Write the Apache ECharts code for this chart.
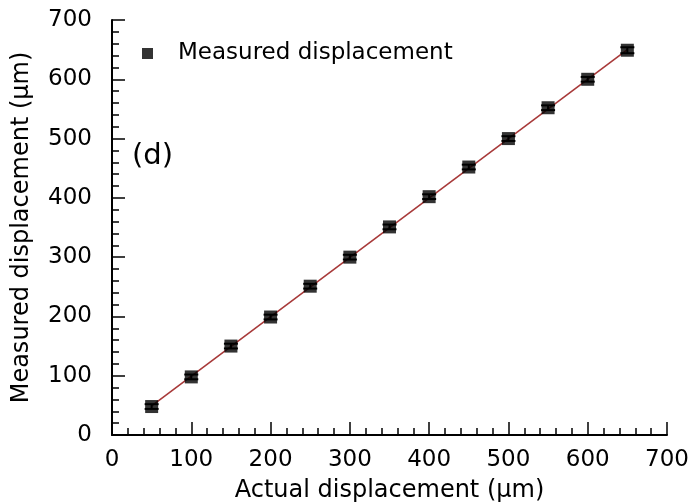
<!DOCTYPE html>
<html>
<head>
<meta charset="utf-8">
<script src="https://cdn.jsdelivr.net/npm/echarts@6/dist/echarts.min.js"></script>
<style>
  html, body { margin: 0; padding: 0; background: #fff; }
  #chart { width: 689px; height: 502px; }
</style>
</head>
<body>
<div id="chart"></div>
<script>
// actual vs measured displacement (µm)
const actual = [50, 100, 150, 200, 250, 300, 350, 400, 450, 500, 550, 600, 650];
const measured = [48, 98, 150, 199, 251, 300, 351, 402, 452, 500, 552, 600, 649];
const errors = [4, 4, 4, 4, 4, 4, 4, 4, 4, 4, 4, 4, 5];
// fitted line endpoints
const fitX = [50, 650];
const fitY = [49, 650];

const FONT = "DejaVu Sans";
const chart = echarts.init(document.getElementById("chart"));

const points = actual.map((x, i) => [x, measured[i]]);
const errData = actual.map((x, i) => [x, measured[i] - errors[i], measured[i] + errors[i]]);

function renderErr(params, api) {
  const x = api.value(0);
  const lo = api.coord([x, api.value(1)]);
  const hi = api.coord([x, api.value(2)]);
  const w = 7;
  const style = { stroke: "#000", lineWidth: 2 };
  return {
    type: "group",
    children: [
      { type: "line", shape: { x1: lo[0], y1: lo[1], x2: hi[0], y2: hi[1] }, style },
      { type: "line", shape: { x1: lo[0] - w, y1: lo[1], x2: lo[0] + w, y2: lo[1] }, style },
      { type: "line", shape: { x1: hi[0] - w, y1: hi[1], x2: hi[0] + w, y2: hi[1] }, style }
    ]
  };
}

const axisCommon = {
  type: "value",
  min: 0,
  max: 700,
  interval: 100,
  splitLine: { show: false },
  axisLine: { show: true, lineStyle: { color: "#000", width: 2 } },
  axisTick: { show: true, inside: true, length: 13, lineStyle: { color: "#000", width: 1.5 } },
  minorTick: { show: true, splitNumber: 5, length: 7, lineStyle: { color: "#000", width: 1.5 } },
  axisLabel: { color: "#000", fontFamily: FONT, fontSize: 23 },
  nameLocation: "middle",
  nameTextStyle: { color: "#000", fontFamily: FONT, fontSize: 24 }
};

chart.setOption({
  animation: false,
  grid: { left: 112, right: 22, top: 20, bottom: 67, outerBoundsMode: "none" },
  legend: {
    data: [{ name: "Measured displacement", icon: "rect" }],
    left: 137,
    top: 37,
    itemWidth: 11,
    itemHeight: 11,
    textStyle: { color: "#000", fontFamily: FONT, fontSize: 23, padding: [0, 0, 0, 20] }
  },
  xAxis: Object.assign({}, axisCommon, {
    name: "Actual displacement (μm)",
    nameGap: 44,
    axisLabel: Object.assign({}, axisCommon.axisLabel, { margin: 14 })
  }),
  yAxis: Object.assign({}, axisCommon, {
    name: "Measured displacement (μm)",
    nameGap: 78,
    axisLabel: Object.assign({}, axisCommon.axisLabel, { margin: 20 })
  }),
  graphic: [
    { type: "text", left: 132, top: 142, style: { text: "(d)", fontFamily: FONT, fontSize: 29, fill: "#000" } }
  ],
  series: [
    {
      name: "fit",
      type: "line",
      data: fitX.map((x, i) => [x, fitY[i]]),
      showSymbol: false,
      lineStyle: { color: "#a83a3a", width: 1.6 },
      z: 1
    },
    {
      name: "err",
      type: "custom",
      renderItem: renderErr,
      data: errData,
      z: 2
    },
    {
      name: "Measured displacement",
      type: "scatter",
      data: points,
      symbol: "rect",
      symbolSize: 13,
      itemStyle: { color: "#000" },
      z: 3
    }
  ]
});
</script>
</body>
</html>
